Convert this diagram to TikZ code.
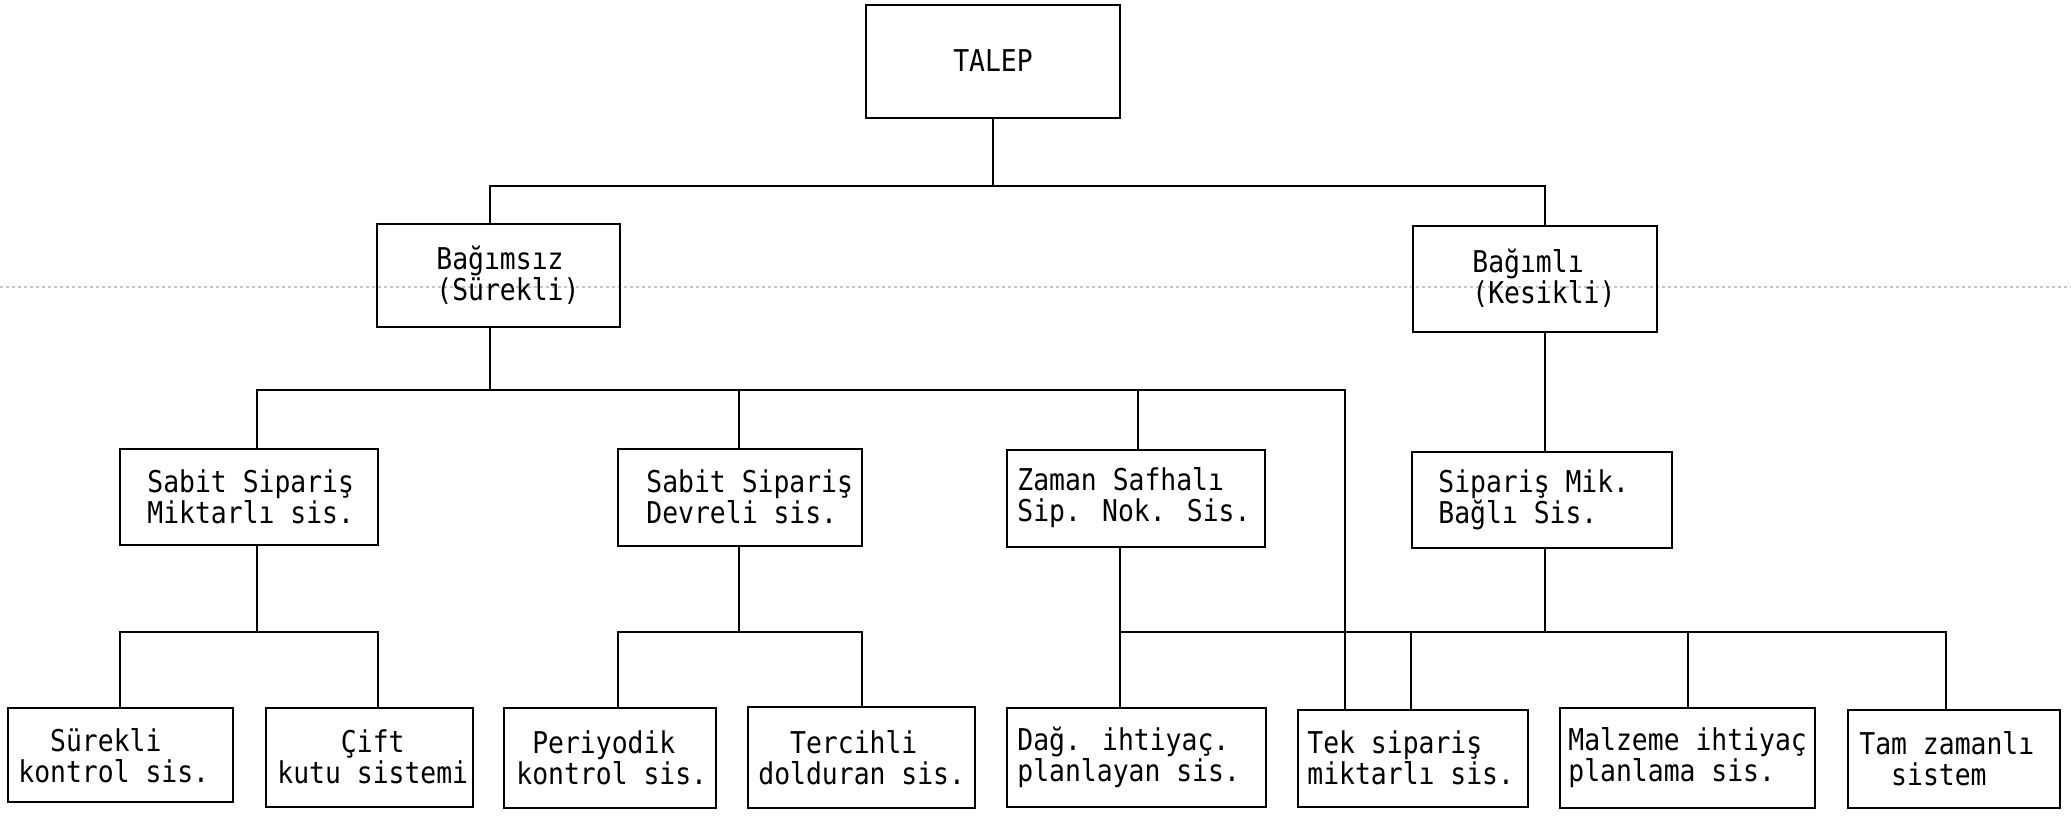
\documentclass[tikz,border=0pt]{standalone}
\usepackage{fontspec}
\newfontfamily\twfont[FakeStretch=0.88]{DejaVu Sans Mono}
\tikzset{
  bx/.style={draw, line width=1.4pt, rectangle, inner sep=0pt},
  tx/.style={font=\twfont\fontsize{15pt}{15.5pt}\selectfont, align=left, inner sep=0pt, anchor=west},
  ln/.style={line width=1.1pt},
  scanline/.style={draw=gray!45, line width=0.6pt, dash pattern=on 1.5pt off 1.5pt}
}
\newcommand\mybox[5]{\node[bx, minimum width={(#4-#2)*0.5pt}, minimum height={(#5-#3)*0.5pt}] (#1) at ({(#2+#4)/2},{(#3+#5)/2}) {};}
\newcommand\mytext[4]{\node[tx] (#1) at (#2,#3) {#4};}
\begin{document}
\begin{tikzpicture}[x=0.5pt,y=-0.5pt]
\useasboundingbox (0,0) rectangle (2071,815);
\draw[scanline] (0,287) -- (2071,287);
% boxes
\mybox{talep}{866}{5}{1120}{118}
\mybox{bagimsiz}{377}{224}{620}{327}
\mybox{bagimli}{1413}{226}{1657}{332}
\mybox{miktarli}{120}{449}{378}{545}
\mybox{devreli}{618}{449}{862}{546}
\mybox{zaman}{1007}{450}{1265}{547}
\mybox{sipmik}{1412}{452}{1672}{548}
\mybox{surekli}{8}{708}{233}{802}
\mybox{cift}{266}{708}{473}{807}
\mybox{periyodik}{504}{708}{716}{808}
\mybox{tercihli}{748}{707}{975}{808}
\mybox{dag}{1007}{708}{1266}{807}
\mybox{tek}{1298}{710}{1528}{807}
\mybox{malzeme}{1560}{708}{1815}{808}
\mybox{tam}{1848}{710}{2060}{808}
% texts
\node[tx, anchor=center] (talept) at (993,61) {TALEP};
\mytext{bagimsizt}{436}{275}{Bağımsız\\(Sürekli)}
\mytext{bagimlit}{1472}{278}{Bağımlı\\(Kesikli)}
\mytext{miktarlit}{147}{497}{Sabit Sipariş\\Miktarlı sis.}
\mytext{devrelit}{646}{497}{Sabit Sipariş\\Devreli sis.}
\mytext{zamant}{1017}{498}{Zaman Safhalı\\Sip. Nok. Sis.}
\mytext{sipmikt}{1438}{500}{Sipariş Mik.\\Bağlı Sis.}
\mytext{surekt}{18}{756}{\hphantom{xx}Sürekli\\kontrol sis.}
\mytext{ciftt}{277}{757}{\hphantom{xxxx}Çift\\kutu sistemi}
\mytext{periyodikt}{516}{758}{\hphantom{x}Periyodik\\kontrol sis.}
\mytext{tercihlit}{758}{758}{\hphantom{xx}Tercihli\\dolduran sis.}
\mytext{dagt}{1017}{757}{Dağ. ihtiyaç.\\planlayan sis.}
\mytext{tekt}{1307}{758}{Tek sipariş\\miktarlı sis.}
\mytext{malzemet}{1568}{758}{Malzeme ihtiyaç\\planlama sis.}
\mytext{tamt}{1859}{759}{Tam zamanlı\\\hphantom{xx}sistem}
% junctions
\coordinate (j1L) at (490,186);
\coordinate (j1R) at (1545,186);
\coordinate (j2T) at (490,390);
\coordinate (j2L) at (257,390);
\coordinate (j2R) at (1345,390);
\coordinate (j2a) at (739,390);
\coordinate (j2b) at (1138,390);
\coordinate (j3a) at (257,632);
\coordinate (j3aL) at (120,632);
\coordinate (j3aR) at (378,632);
\coordinate (j3b) at (739,632);
\coordinate (j3bL) at (618,632);
\coordinate (j3bR) at (862,632);
\coordinate (j3cL) at (1120,632);
\coordinate (j3cR) at (1946,632);
\coordinate (j3c1) at (1411,632);
\coordinate (j3c2) at (1688,632);
% connectors
\draw[ln] (talep.south) -- (talep.south |- j1L);
\draw[ln] (bagimsiz.north -| j1L) -- (j1L) -- (j1R) -- (bagimli.north -| j1R);
\draw[ln] (bagimsiz.south -| j2T) -- (j2T);
\draw[ln] (miktarli.north -| j2L) -- (j2L) -- (j2R) -- (tek.north -| j2R);
\draw[ln] (j2a) -- (devreli.north -| j2a);
\draw[ln] (j2b) -- (zaman.north -| j2b);
\draw[ln] (bagimli.south -| j1R) -- (sipmik.north -| j1R);
\draw[ln] (miktarli.south -| j3a) -- (j3a);
\draw[ln] (surekli.north -| j3aL) -- (j3aL) -- (j3aR) -- (cift.north -| j3aR);
\draw[ln] (devreli.south -| j3b) -- (j3b);
\draw[ln] (periyodik.north -| j3bL) -- (j3bL) -- (j3bR) -- (tercihli.north -| j3bR);
\draw[ln] (zaman.south -| j3cL) -- (j3cL) -- (j3cR) -- (tam.north -| j3cR);
\draw[ln] (j3cL) -- (dag.north -| j3cL);
\draw[ln] (sipmik.south -| j1R) -- (j1R |- j3cL);
\draw[ln] (j3c1) -- (tek.north -| j3c1);
\draw[ln] (j3c2) -- (malzeme.north -| j3c2);
\end{tikzpicture}
\end{document}
